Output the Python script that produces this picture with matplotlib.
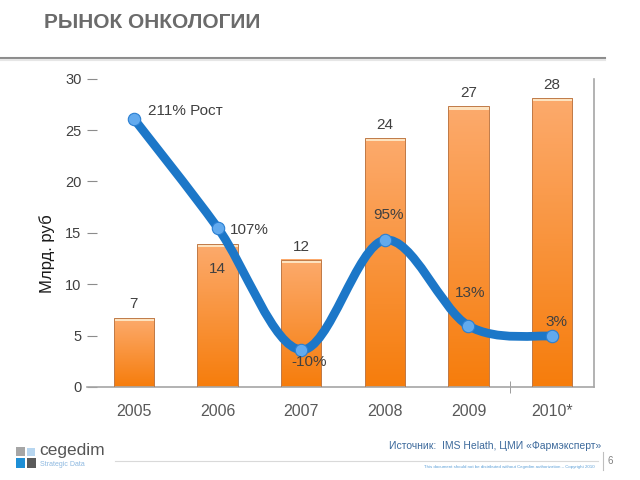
import numpy as np
import matplotlib
matplotlib.use('Agg')
import matplotlib.pyplot as plt
from matplotlib.path import Path
from matplotlib.patches import PathPatch, Rectangle
from matplotlib.lines import Line2D
from matplotlib.colors import LinearSegmentedColormap

plt.rcParams['font.family'] = ['Liberation Sans', 'DejaVu Sans']

years = ['2005', '2006', '2007', '2008', '2009', '2010*']
market = [6.7, 13.9, 12.4, 24.2, 27.3, 28.1]
market_labels = ['7', '14', '12', '24', '27', '28']
growth = [211, 107, -10, 95, 13, 3]
growth_labels = ['211% Рост', '107%', '-10%', '95%', '13%', '3%']

fig = plt.figure(figsize=(6.4, 4.8), dpi=100)
ax = fig.add_axes([0.136, 0.194, 0.792, 0.642])
x = np.arange(len(years))
w = 0.48

# bars with vertical gradient
grad = np.linspace(0, 1, 100).reshape(-1, 1)
cmap = LinearSegmentedColormap.from_list('bar', ['#f67d0c', '#fcaa6c'])
for xi, h in zip(x, market):
    ax.imshow(grad, extent=[xi - w / 2, xi + w / 2, 0, h], origin='lower',
              cmap=cmap, aspect='auto', zorder=2)
ax.bar(x, 0.3, w, bottom=np.array(market) - 0.3, color='#fde3c0', lw=0, zorder=3)
ax.bar(x, market, w, facecolor='none', edgecolor='#c07a48', lw=0.7, zorder=3)

ax.set_xlim(-0.56, 5.5)
ax.set_ylim(0, 30)
ax.set_yticks(range(0, 31, 5))
ax.set_xticks(x, years)
ax.set_xticks([4.5], minor=True)
ax.tick_params(axis='y', direction='in', length=7, color='#8c8c8c',
               labelsize=10.5, labelcolor='#404040', pad=4)
ax.tick_params(axis='x', which='major', length=0, pad=12, labelsize=11.5,
               labelcolor='#595959')
ax.tick_params(axis='x', which='minor', direction='inout', length=8, color='#8c8c8c')
for s in ['top', 'left']:
    ax.spines[s].set_visible(False)
for s in ['bottom', 'right']:
    ax.spines[s].set_color('#a6a6a6')
    ax.spines[s].set_linewidth(1.2)

for xi, h, lab, dy in zip(x, market, market_labels, [14, -25, 13, 13, 13, 13]):
    ax.annotate(lab, (xi, h), xytext=(0, dy), textcoords='offset pixels',
                ha='center', va='center', fontsize=11, color='#404040', zorder=6)

# growth line on hidden secondary axis, smoothed like Excel
ax2 = ax.twinx()
ax2.set_ylim(-45.4, 249.3)
ax2.set_xlim(-0.56, 5.5)
ax2.axis('off')
pts = np.column_stack([x, growth]).astype(float)
verts = [pts[0]]
codes = [Path.MOVETO]
n = len(pts)
for i in range(n - 1):
    p0 = pts[max(i - 1, 0)]
    p1 = pts[i]
    p2 = pts[i + 1]
    p3 = pts[min(i + 2, n - 1)]
    verts += [p1 + (p2 - p0) / 6, p2 - (p3 - p1) / 6, p2]
    codes += [Path.CURVE4] * 3
ax2.add_patch(PathPatch(Path(verts, codes), fill=False, ec='#1c77c8', lw=6.3,
                        capstyle='round', joinstyle='round', zorder=4))
ax2.scatter(x, growth, s=80, c='#62aaee', edgecolors='#2a7fd2', linewidths=0.8, zorder=5)

offs = [(14, 8, 'left'), (12, -2, 'left'), (8, -12, 'center'),
        (4, 25, 'center'), (2, 33, 'center'), (4, 14, 'center')]
for xi, g, lab, (dx, dy, ha) in zip(x, growth, growth_labels, offs):
    ax2.annotate(lab, (xi, g), xytext=(dx, dy), textcoords='offset pixels',
                 ha=ha, va='center', fontsize=11, color='#404040', zorder=6)

fig.text(47 / 640, 1 - 254 / 480, 'Млрд. руб', rotation=90, ha='center', va='center',
         fontsize=12, color='#1a1a1a')

# header
fig.text(44 / 640, 1 - 22 / 480, 'РЫНОК ОНКОЛОГИИ', fontsize=15, fontweight='bold',
         color='#6b6b6b', va='center')
fig.add_artist(Line2D([0, 605 / 640], [1 - 58 / 480] * 2, color='#8c8c8c', lw=1.5))
fig.add_artist(Line2D([0, 605 / 640], [1 - 60 / 480] * 2, color='#e6e6e6', lw=1.5))

# footer
def px_rect(x0, y0, x1, y1, color):
    fig.add_artist(Rectangle((x0 / 640, 1 - y1 / 480), (x1 - x0) / 640, (y1 - y0) / 480,
                             transform=fig.transFigure, color=color, lw=0))

px_rect(16, 447, 25, 456, '#a6a6a6')
px_rect(27, 448, 35, 456, '#b7d6f0')
px_rect(16, 458, 25, 468, '#1e8fd6')
px_rect(27, 458, 36, 468, '#5a5a5a')
fig.text(39 / 640, 1 - 451 / 480, 'cegedim', fontsize=12.5, color='#555555', va='center')
fig.text(40 / 640, 1 - 464 / 480, 'Strategic Data', fontsize=5, color='#8db8e0', va='center')
fig.add_artist(Line2D([115 / 640, 598 / 640], [1 - 461 / 480] * 2, color='#d9d9d9', lw=0.8))
fig.add_artist(Line2D([603 / 640, 603 / 640], [1 - 452 / 480, 1 - 470 / 480],
                      color='#bfbfbf', lw=0.8))
fig.text(601 / 640, 1 - 446 / 480, 'Источник:  IMS Helath, ЦМИ «Фармэксперт»',
         fontsize=7.5, color='#3d6a9c', ha='right', va='center')
fig.text(607 / 640, 1 - 461 / 480, '6', fontsize=7, color='#808080', va='center')
fig.text(595 / 640, 1 - 467 / 480,
         'This document should not be distributed without Cegedim authorization \u2013 Copyright 2010',
         fontsize=3.2, color='#5da0d8', ha='right', va='center')

fig.savefig('out.png', dpi=100)
